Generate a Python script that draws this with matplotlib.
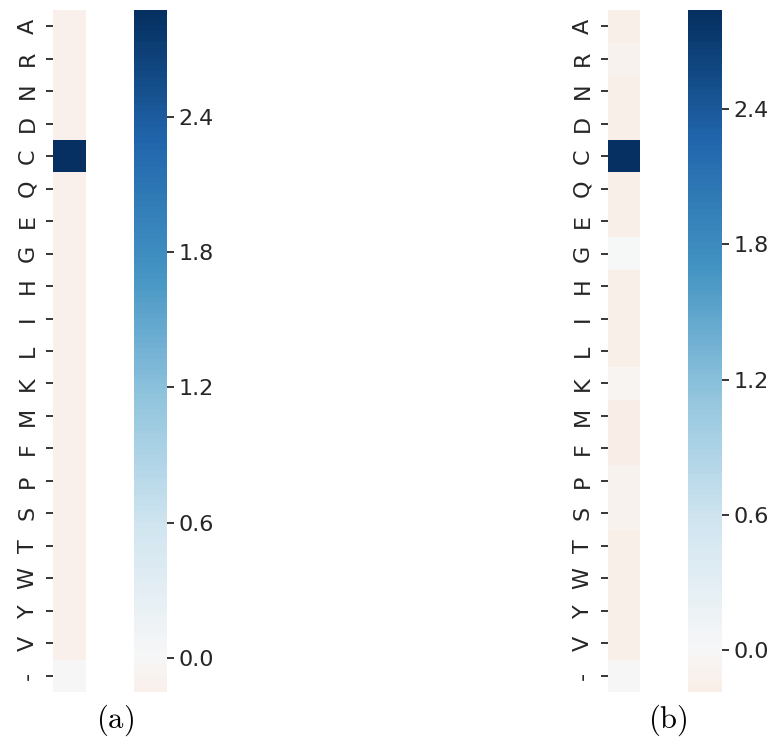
import matplotlib
matplotlib.use("Agg")
import matplotlib.pyplot as plt
import numpy as np
import seaborn as sns

plt.rcParams['mathtext.fontset'] = 'cm'

residues = ['A', 'R', 'N', 'D', 'C', 'Q', 'E', 'G', 'H', 'I', 'L',
            'K', 'M', 'F', 'P', 'S', 'T', 'W', 'Y', 'V', '-']

# valores estimados a partir da figura
vals_a = [-0.153, -0.15, -0.15, -0.15, 2.877, -0.15, -0.15, -0.15, -0.15, -0.15, -0.15,
          -0.15, -0.15, -0.15, -0.15, -0.15, -0.15, -0.15, -0.15, -0.15, 0.0]
vals_b = [-0.16, -0.09, -0.16, -0.16, 2.84, -0.16, -0.16, 0.02, -0.16, -0.16, -0.16,
          -0.06, -0.185, -0.185, -0.08, -0.08, -0.15, -0.15, -0.15, -0.15, 0.0]

cbar_ticks = [0.0, 0.6, 1.2, 1.8, 2.4]
txt = '#262626'

fig = plt.figure(figsize=(7.71, 7.42), dpi=100)
W, H = 771, 742


def box(x0, x1, y0, y1):
    return [x0 / W, 1 - y1 / H, (x1 - x0) / W, (y1 - y0) / H]


panels = [
    (vals_a, box(53, 86, 10, 692), box(134, 167, 10, 692), '(a)', 115),
    (vals_b, box(608, 640, 10, 692), box(688, 722, 10, 692), '(b)', 668),
]

for vals, hm_box, cb_box, label, lx in panels:
    ax = fig.add_axes(hm_box)
    cax = fig.add_axes(cb_box)
    data = np.array(vals).reshape(-1, 1)
    sns.heatmap(data, ax=ax, cbar_ax=cax, cmap='RdBu', center=0,
                xticklabels=False, yticklabels=residues,
                cbar_kws={'ticks': cbar_ticks})
    ax.tick_params(axis='y', labelsize=16, rotation=90, length=5, width=1.3,
                   colors=txt, pad=6)
    for t in ax.get_yticklabels():
        t.set_va('center')
    cax.tick_params(labelsize=16, length=5, width=1.3, colors=txt, pad=3)
    cax.yaxis.set_major_formatter(matplotlib.ticker.FormatStrFormatter('%.1f'))
    fig.text(lx / W, 1 - 720 / H, r'$\mathrm{' + label + '}$', fontsize=22,
             ha='center', va='center')

fig.savefig('out.png', dpi=100)
